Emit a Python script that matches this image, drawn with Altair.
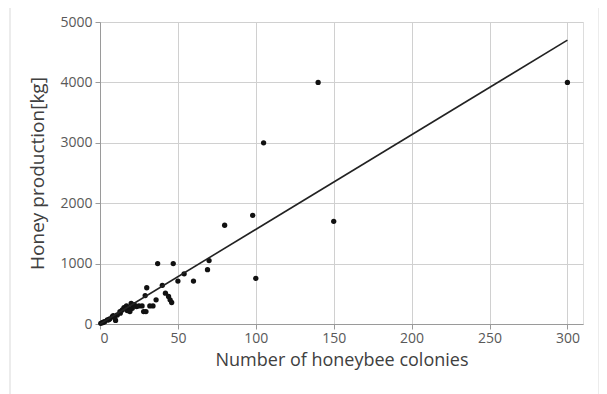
import altair as alt
import pandas as pd

colonies = [300, 140, 105, 150, 98, 80, 100, 70, 69, 60, 54, 50, 47, 37, 40, 42, 44, 45, 46, 36,
            30, 29, 34, 32, 28, 29.5, 25, 27, 23.5, 20, 18.6, 17.5, 15.4, 14.3, 12.8, 11.1, 10,
            7.9, 6.2, 4.7, 3, 1.5, 0.5, 16.5, 17, 20.7, 19.2, 8.5, 13, 22, 5.5, 2.2, 9.5]
honey = [4000, 4000, 3000, 1700, 1800, 1635, 757, 1050, 900, 710, 830, 710, 1000, 1000, 640, 510,
         456, 400, 356, 400, 600, 470, 300, 300, 205, 205, 300, 300, 290, 340, 260, 222, 272,
         233, 205, 150, 60, 122, 83, 67, 39, 22, 11, 272, 300, 260, 205, 140, 180, 320, 70, 30, 100]

trend_x = [0, 300]
trend_y = [0, 4700]

x_ticks = [0, 50, 100, 150, 200, 250, 300]
y_ticks = [0, 500, 1000, 1500, 2000, 2500, 3000, 3500, 4000, 4500, 5000]

pts = pd.DataFrame({"x": colonies, "y": honey})
line = pd.DataFrame({"x": trend_x, "y": trend_y})

FONT = "Open Sans"

xs = alt.Scale(domain=[0, 310], nice=False, zero=True)
ys = alt.Scale(domain=[0, 5000], nice=False)

common = dict(grid=True, gridColor="#d0d0d0", domain=True, domainColor="#9a9a9a",
              ticks=True, tickSize=5, tickColor="#9a9a9a", format="d",
              labelFont=FONT, labelFontSize=14, labelColor="#595959",
              titleFont=FONT, titleFontWeight="normal", titleColor="#404040")

xaxis = alt.Axis(values=x_ticks, title="Number of honeybee colonies", labelPadding=2,
                 titleFontSize=18, titlePadding=6, **common)
yaxis = alt.Axis(values=y_ticks, title="Honey production[kg]", labelPadding=3,
                 titleFontSize=19, titlePadding=12, **common)

frame = alt.Chart(pd.DataFrame({"a": [0]})).mark_rect(
    fill=None, stroke="#d9d9d9", strokeWidth=1, clip=False
).encode(x=alt.value(-90), x2=alt.value(499), y=alt.value(-15), y2=alt.value(400))

points = alt.Chart(pts).mark_circle(size=28, color="#111111", opacity=1).encode(
    x=alt.X("x:Q", scale=xs, axis=xaxis),
    y=alt.Y("y:Q", scale=ys, axis=yaxis),
)

trend = alt.Chart(line).mark_line(color="#222222", strokeWidth=1.6).encode(
    x=alt.X("x:Q", scale=xs),
    y=alt.Y("y:Q", scale=ys),
)

chart = alt.layer(frame, points, trend).properties(
    width=483, height=302,
    autosize=alt.AutoSizeParams(type="none"),
    padding={"left": 92, "top": 14, "right": 16, "bottom": 70},
).configure_view(stroke="#d0d0d0").configure(background="white")

chart.save("out.html", embed_options={"renderer": "svg", "actions": False})
